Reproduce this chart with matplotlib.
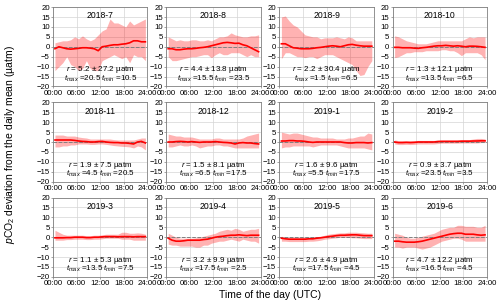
import matplotlib
matplotlib.use("Agg")
import matplotlib.pyplot as plt
import numpy as np

hours = np.arange(24) + 0.5

months = ["2018-7", "2018-8", "2018-9", "2018-10",
          "2018-11", "2018-12", "2019-1", "2019-2",
          "2019-3", "2019-4", "2019-5", "2019-6"]

r_mean = [5.2, 4.4, 2.2, 1.3, 1.9, 1.5, 1.6, 0.9, 1.1, 3.2, 2.6, 4.7]
r_std = [27.2, 13.8, 30.4, 12.1, 7.5, 8.1, 9.6, 3.7, 5.3, 9.9, 4.9, 12.2]
t_max = [20.5, 15.5, 1.5, 13.5, 4.5, 6.5, 5.5, 23.5, 13.5, 17.5, 17.5, 16.5]
t_min = [10.5, 23.5, 6.5, 6.5, 20.5, 17.5, 17.5, 3.5, 7.5, 2.5, 4.5, 4.5]

# mean deviation per hour
mean_dev = [
    [-1, 0, -0.5, -1, -1.2, -1, -0.8, -0.5, -0.5, -0.7, -1, -2, 0, 0.3, 0.7, 1, 1, 1.3, 1.5, 2, 3, 3, 2.5, 2.5],
    [-1, -1, -1.5, -1.5, -1.2, -1, -1, -0.8, -0.5, -0.3, 0, 0.5, 1, 1.5, 2, 2.2, 2, 1.7, 1.8, 1, 0.5, -0.5, -1.5, -2.5],
    [1.5, 1.5, 0.5, -0.5, -0.7, -1, -1, -1, -0.8, -0.5, -0.3, 0, 0.3, 0.5, 0.3, 0, 0.5, 1, 1.2, 0.8, 0.5, 0.3, 0.3, 0.3],
    [-0.3, -0.3, -0.5, -0.5, -0.5, -0.7, -0.8, -0.5, -0.3, 0, 0.3, 0.5, 0.5, 0.7, 0.5, 0.3, 0.5, 0.3, 0, 0.3, 0.3, 0.2, 0, -0.3],
    [1, 1, 1, 1, 1, 0.8, 0.5, 0.3, 0.2, 0, 0, 0.2, 0.3, 0, -0.2, -0.3, -0.3, -0.5, -0.5, -0.7, -1, 0, 0.3, -0.5],
    [0, 0, 0.2, 0.3, 0.2, 0, 0.2, 0, -0.2, 0, 0, 0, 0.2, 0, -0.2, -0.3, -0.5, -1, -0.5, -0.3, -0.5, -0.5, -0.8, -1],
    [0.5, 0.5, 0.7, 0.7, 0.5, 0.5, 0.3, 0, -0.2, 0, 0, 0, 0, 0, 0, 0, -0.3, -0.5, -0.5, -0.3, -0.3, -0.3, -0.5, -0.3],
    [0, -0.3, -0.3, -0.2, -0.3, -0.2, 0, 0, 0, 0, 0, 0.2, 0.3, 0.3, 0.3, 0.3, 0.3, 0.4, 0.4, 0.4, 0.5, 0.5, 0.6, 0.6],
    [-0.3, -0.3, -0.3, -0.2, -0.2, 0, 0, 0, -0.2, -0.2, 0, 0, 0.2, 0.3, 0.3, 0.3, 0.2, 0.3, 0.3, 0.3, 0.2, 0.3, 0.3, 0.3],
    [-0.5, -1.5, -2, -2, -1.8, -1.5, -1.5, -1.5, -1.5, -1.2, -1, -0.5, 0, 0.3, 0.5, 0.8, 1, 1, 1.2, 1, 0.8, 1, 1, 1],
    [-0.5, -0.8, -1, -1, -1, -1, -1, -0.8, -0.8, -0.5, -0.3, 0, 0.3, 0.5, 0.8, 1, 1, 1.1, 1.2, 1.2, 1, 0.8, 0.8, 0.8],
    [-2, -2, -2.3, -2.5, -2.5, -2.5, -2.3, -2, -1.5, -1, -0.5, 0, 0.5, 1, 1.5, 1.8, 2, 2, 1.5, 1.5, 1.5, 1.2, 1, 1.2],
]

upper_dev = [
    [2, 2.5, 3, 3, 3.5, 5, 4, 5.5, 4, 3, 4, 6, 8, 9, 14, 12, 12, 11, 10, 13, 11, 12, 13, 14],
    [5, 4, 3, 3.5, 3, 3, 3.5, 3.5, 3, 3, 3.5, 3, 4, 5, 5, 5.5, 7, 6, 5.5, 5, 5, 5.5, 5.5, 6],
    [15, 15.5, 13, 11, 10, 8, 6, 5.5, 5, 5, 4, 4.5, 4.5, 4.5, 5, 4.5, 4, 5, 4.5, 3, 3, 3, 3, 3],
    [5.5, 5, 4, 3, 2.5, 2, 1.5, 1.5, 1.5, 2, 2.5, 3, 3, 3, 3, 3, 3, 3, 4, 5, 4.5, 5, 5, 5],
    [3.5, 3.5, 3.5, 3, 3, 3, 2.5, 2.2, 2, 1.5, 1.5, 1.5, 1.5, 1.5, 1.5, 1.2, 1, 1, 1, 1, 1, 1.5, 2, 2],
    [4, 3.5, 3, 3, 2.5, 2.5, 2.5, 2, 1.5, 1.5, 1.5, 1.5, 2, 2, 1.5, 1.5, 1.5, 1.5, 1.5, 2, 3, 3.5, 4, 4.5],
    [5, 4.5, 4, 4.5, 4.5, 4, 3.5, 3, 2.5, 2.5, 2, 2, 2, 2, 1.5, 1.5, 1.5, 2, 2, 2.5, 3, 3, 4.5, 4],
    [1, 0.7, 0.7, 0.7, 0.7, 0.7, 0.8, 0.8, 0.8, 0.8, 0.8, 1, 1, 1, 1, 1, 1, 1.2, 1.2, 1.2, 1.5, 1.8, 1.8, 1.5],
    [3.5, 2.5, 1.5, 1, 1, 1, 1, 1, 0.8, 0.8, 1, 1, 1.2, 1.5, 1.5, 1.5, 1.5, 2.5, 2.5, 2, 2, 2.2, 2, 1.5],
    [2, 1, 0, -0.5, -0.5, -0.5, -0.5, -0.3, 0, 0.5, 1, 1.5, 2, 3, 3.5, 4, 3.5, 4.5, 4, 3, 3.5, 4, 4, 4.5],
    [0.5, 0, 0, 0, 0, 0, 0, 0, 0, 0.3, 0.5, 1, 1.5, 1.8, 2, 2.2, 2.2, 2.5, 2.5, 2.5, 2.3, 2.2, 2, 2],
    [2, 1.5, 1, 0, -0.5, -0.5, 0, 0.5, 1, 1.5, 2, 3, 4, 4.5, 5, 5, 6, 6, 5.5, 5.5, 5.5, 5, 5, 6],
]

lower_dev = [
    [-12, -10, -8, -5, -9, -10, -12, -11, -7, -11, -12, -12, -7, -6, -5, -4, -5, -6, -5, -8, -4, -5, -5, -7],
    [-5, -7, -7, -6.5, -6, -5.5, -5, -5, -4.5, -4, -4, -5.5, -4, -3, -4, -4, -3, -3, -3, -4, -5, -4, -5, -5],
    [-6, -3, -3, -4, -5, -5, -5.5, -5, -5, -6, -5, -4, -4, -4, -5, -6, -7, -8, -9, -12, -14.5, -14, -10, -7],
    [-5.5, -5, -4, -3, -3, -2.5, -2.5, -2.5, -2, -2, -2, -2, -1.5, -1.5, -2, -2, -3, -4.5, -3, -3, -3, -3, -4, -6.5],
    [-2.5, -2.5, -2, -2, -1.5, -1.5, -1, -1, -1, -1.2, -1.2, -1, -1, -1.2, -1.5, -1.8, -2, -2.2, -2.3, -2.5, -3, -2, -2.5, -4],
    [-2.5, -2.5, -2, -1.5, -2, -2, -1.5, -2, -3, -2.5, -2, -2, -1.5, -1.5, -2, -2, -2.5, -3, -3, -3, -3, -3, -3, -3],
    [-3, -2.5, -2.5, -2, -2, -2, -2, -2, -2.5, -2, -1.5, -1.5, -1.5, -1.5, -1.5, -2, -2.5, -3, -3, -3, -3, -3, -3.5, -4],
    [-1, -1.3, -1.3, -1.2, -1.3, -1.2, -1, -1, -1, -1, -1, -0.8, -0.6, -0.6, -0.6, -0.6, -0.6, -0.5, -0.5, -0.5, -0.5, -0.5, -0.3, -0.3],
    [-1.5, -1.5, -1.5, -1.2, -1.2, -1, -1, -1, -1.2, -1.2, -1, -1, -0.8, -0.5, -0.5, -0.5, -0.5, -1, -1, -1, -1.5, -1.5, -1.5, -1.5],
    [-3.5, -4, -4, -4.5, -4.5, -4.5, -4.5, -5, -5, -4, -4, -3, -2.5, -2, -2, -1.5, -1, -1.5, -2, -1, -1.5, -2, -2, -3],
    [-2, -2, -2.2, -2.2, -2.2, -2.2, -2.2, -2, -2, -1.8, -1.5, -1, -0.8, -0.5, -0.3, 0, 0, 0, -0.3, -0.3, -0.5, -0.7, -0.7, -0.7],
    [-5, -5, -5.5, -5, -5, -5, -5.5, -6, -5.5, -5, -4, -3, -2, -1.5, -1, -0.5, -0.5, -1, -2, -2, -2, -2, -2, -2],
]

plt.rcParams['font.family'] = ['Liberation Sans', 'DejaVu Sans']
plt.rcParams['mathtext.fontset'] = 'custom'
plt.rcParams['mathtext.rm'] = 'Liberation Sans'
plt.rcParams['mathtext.it'] = 'Liberation Sans:italic'
plt.rcParams['mathtext.bf'] = 'Liberation Sans:bold'
fs = 5.8

fig, axes = plt.subplots(3, 4, figsize=(5, 3.08), dpi=100)
fig.subplots_adjust(left=0.106, right=0.974, top=0.977, bottom=0.101, wspace=0.2, hspace=0.2)

for i, ax in enumerate(axes.flat):
    ax.fill_between(hours, lower_dev[i], upper_dev[i], color='red', alpha=0.3, lw=0)
    ax.axhline(0, color='gray', ls='--', lw=0.7)
    ax.plot(hours, mean_dev[i], color='red', lw=1.2)
    ax.set_xlim(0, 24)
    ax.set_ylim(-20, 20)
    ax.set_xticks([0, 6, 12, 18, 24])
    ax.set_xticklabels(["00:00", "06:00", "12:00", "18:00", "24:00"])
    ax.set_yticks(range(-20, 21, 5))
    ax.grid(color='#d5d5d5', lw=0.5)
    ax.set_axisbelow(True)
    ax.tick_params(labelsize=5.6, length=1.5, width=0.5, pad=0.8, color='gray')
    for s in ax.spines.values():
        s.set_color('gray')
        s.set_linewidth(0.6)
    ax.text(0.5, 0.89, months[i], transform=ax.transAxes, ha='center', va='center', fontsize=6.2)
    ax.text(0.5, 0.21, f"$r$ = {r_mean[i]} $\\pm$ {r_std[i]} µatm",
            transform=ax.transAxes, ha='center', va='center', fontsize=fs)
    ax.text(0.5, 0.095, f"$t_{{max}}$ ={t_max[i]} $t_{{min}}$ ={t_min[i]}",
            transform=ax.transAxes, ha='center', va='center', fontsize=fs)

fig.text(0.02, 0.53, "$p$CO$_2$ deviation from the daily mean (µatm)", rotation=90,
         ha='center', va='center', fontsize=7.5)
fig.text(0.54, 0.042, "Time of the day (UTC)", ha='center', va='center', fontsize=7.5)

fig.savefig("out.png", dpi=100)
